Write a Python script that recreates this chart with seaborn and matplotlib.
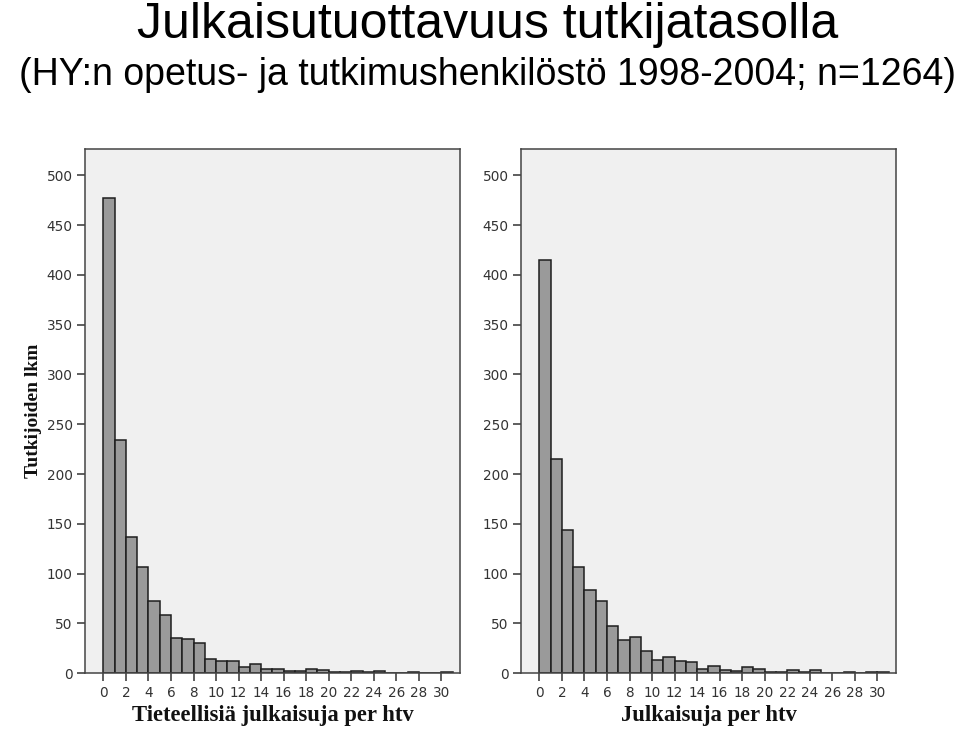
import numpy as np
import pandas as pd
import matplotlib
matplotlib.use("Agg")
import matplotlib.pyplot as plt
import seaborn as sns

# ---- data ----
bin_start = list(range(31))
counts_scientific = [477, 234, 137, 107, 73, 59, 35, 34, 30, 14, 12, 12, 6, 9, 4, 4,
                     2, 2, 4, 3, 1, 1, 2, 1, 2, 0, 0, 1, 0, 0, 1]
counts_all = [415, 215, 144, 107, 84, 73, 47, 33, 36, 22, 13, 16, 12, 11, 4, 7,
              3, 2, 6, 4, 1, 1, 3, 1, 3, 0, 0, 1, 0, 1, 1]
x_ticks = list(range(0, 31, 2))
y_ticks = list(range(0, 501, 50))

title = "Julkaisutuottavuus tutkijatasolla"
subtitle = "(HY:n opetus- ja tutkimushenkilöstö 1998-2004; n=1264)"
xlabels = ["Tieteellisiä julkaisuja per htv", "Julkaisuja per htv"]
ylabel = "Tutkijoiden lkm"

sns.set_theme(style="white")
plt.rcParams["font.family"] = ["DejaVu Sans"]

fig = plt.figure(figsize=(9.6, 7.4), dpi=100)
axes = [fig.add_axes([85 / 960, (740 - 673.3) / 740, 375 / 960, 524 / 740]),
        fig.add_axes([521 / 960, (740 - 673.3) / 740, 375 / 960, 524 / 740])]

df = pd.DataFrame({"start": [b + 0.5 for b in bin_start],
                   "left": counts_scientific, "right": counts_all})

for ax, col, xl in zip(axes, ["left", "right"], xlabels):
    ax.set_facecolor("#f0f0f0")
    sns.histplot(data=df, x="start", weights=col, binwidth=1, binrange=(0, 31),
                 color="#9a9a9a", edgecolor="#1e1e1e", linewidth=1.1, alpha=1,
                 ax=ax)
    ax.set_xlim(-1.63, 31.65)
    ax.set_ylim(0, 526)
    ax.set_xticks(x_ticks)
    ax.set_yticks(y_ticks)
    ax.tick_params(axis="both", direction="out", length=6, width=1.1,
                   color="#333333", labelsize=9.8, labelcolor="#333333",
                   pad=3, left=True, bottom=True)
    for s in ax.spines.values():
        s.set_visible(True)
        s.set_color("#444444")
        s.set_linewidth(1.1)
    ax.set_ylabel("")
    ax.set_xlabel(xl, family="Liberation Serif", fontweight="bold",
                  fontsize=16.3, labelpad=4, color="#111111")
    ax.grid(False)

axes[0].set_ylabel(ylabel, family="Liberation Serif", fontweight="bold",
                   fontsize=14, labelpad=3, color="#111111")

fig.text(0.508, 1 - 38 / 740, title, ha="center", va="baseline",
         family="Liberation Sans", fontsize=36, color="black")
fig.text(0.508, 1 - 85 / 740, subtitle, ha="center", va="baseline",
         family="Liberation Sans", fontsize=27, color="black")

fig.savefig("out.png", dpi=100, facecolor="white")
